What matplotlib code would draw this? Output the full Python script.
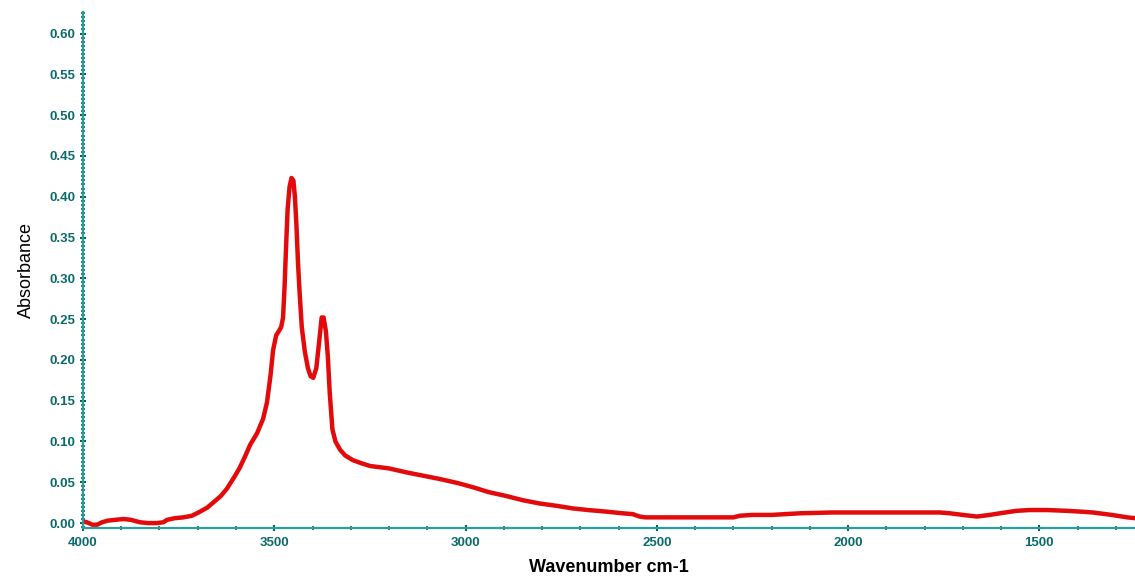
import matplotlib.pyplot as plt
from matplotlib.ticker import MultipleLocator

# IR spectrum
wavenumber = [4000, 3990, 3975, 3963, 3950, 3935, 3915, 3895, 3875, 3851,
              3830, 3807, 3790, 3780, 3760, 3738, 3715, 3694, 3675, 3660,
              3640, 3624, 3605, 3590, 3575, 3563, 3545, 3529, 3519, 3510,
              3503, 3495, 3482, 3477, 3473, 3469, 3465, 3460, 3455, 3450,
              3446, 3442, 3438, 3434, 3428, 3420, 3412, 3405, 3398, 3390,
              3382, 3376, 3371, 3365, 3360, 3355, 3348, 3340, 3328, 3315,
              3294, 3270, 3250, 3200, 3153, 3110, 3067, 3020, 2981, 2940,
              2892, 2850, 2806, 2760, 2720, 2680, 2631, 2590, 2563, 2545,
              2530, 2492, 2400, 2300, 2283, 2250, 2200, 2126, 2040, 1950,
              1850, 1812, 1760, 1734, 1700, 1663, 1630, 1603, 1560, 1525,
              1480, 1428, 1390, 1360, 1311, 1270, 1250]
absorbance = [0.002, 0.001, -0.002, -0.002, 0.001, 0.003, 0.004, 0.005, 0.004, 0.001,
              0.000, 0.000, 0.001, 0.004, 0.006, 0.007, 0.009, 0.014, 0.019, 0.025,
              0.033, 0.042, 0.056, 0.068, 0.083, 0.096, 0.110, 0.128, 0.148, 0.180,
              0.212, 0.230, 0.240, 0.252, 0.290, 0.340, 0.385, 0.412, 0.423, 0.420,
              0.400, 0.365, 0.320, 0.285, 0.240, 0.210, 0.190, 0.180, 0.178, 0.190,
              0.225, 0.252, 0.252, 0.235, 0.205, 0.160, 0.115, 0.100, 0.090, 0.083,
              0.077, 0.073, 0.070, 0.067, 0.062, 0.058, 0.054, 0.049, 0.044, 0.038,
              0.033, 0.028, 0.024, 0.021, 0.018, 0.016, 0.014, 0.012, 0.011, 0.008,
              0.007, 0.007, 0.007, 0.007, 0.009, 0.010, 0.010, 0.012, 0.013, 0.013,
              0.013, 0.013, 0.013, 0.012, 0.010, 0.008, 0.010, 0.012, 0.015, 0.016,
              0.016, 0.015, 0.014, 0.013, 0.010, 0.007, 0.006]

teal = '#2a9d9d'
label_teal = '#0b6b6b'

plt.rcParams['font.family'] = ['Liberation Sans', 'DejaVu Sans']

fig = plt.figure(figsize=(11.35, 5.8), dpi=100)
ax = fig.add_axes([0.0731, 0.0897, 0.9269, 0.889])

ax.plot(wavenumber, absorbance, color='#e20a0a', linewidth=3.2, solid_capstyle='round')

ax.set_xlim(4000, 1250)
ax.set_ylim(-0.006, 0.626)

ax.xaxis.set_major_locator(MultipleLocator(500))
ax.xaxis.set_minor_locator(MultipleLocator(100))
ax.yaxis.set_major_locator(MultipleLocator(0.05))
ax.yaxis.set_minor_locator(MultipleLocator(0.005))
ax.yaxis.set_major_formatter(plt.FormatStrFormatter('%.2f'))

for side in ['top', 'right']:
    ax.spines[side].set_visible(False)
for side in ['left', 'bottom']:
    ax.spines[side].set_color(teal)
    ax.spines[side].set_linewidth(1.6)

ax.tick_params(which='major', direction='inout', length=5, width=1.5,
               color='#0b5e5e', labelcolor=label_teal, labelsize=9.5)
ax.tick_params(which='minor', direction='inout', length=2.5, width=1.2, color='#0b5e5e')
ax.tick_params(axis='y', pad=3)
ax.tick_params(axis='x', pad=4)
for lbl in ax.get_xticklabels() + ax.get_yticklabels():
    lbl.set_fontweight('bold')

ax.set_xlabel('Wavenumber cm-1', fontsize=13, fontweight='bold', labelpad=7)
ax.set_ylabel('Absorbance', fontsize=13, labelpad=10)

fig.savefig('out.png', dpi=100)
